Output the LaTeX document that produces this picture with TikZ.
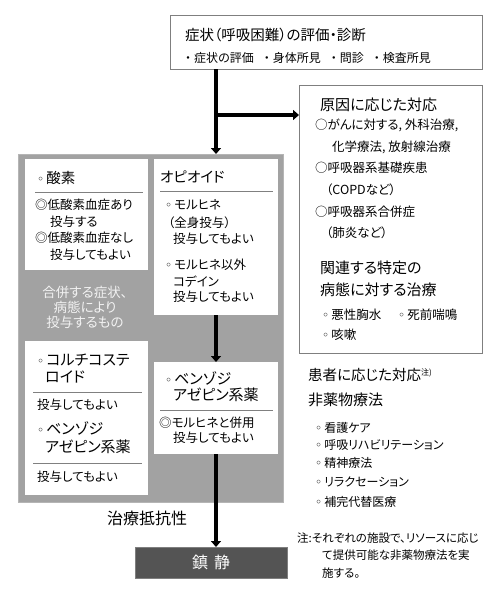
\documentclass[tikz,border=0pt]{standalone}
\usepackage{fontspec}
\setmainfont{Noto Sans CJK JP}[RawFeature=+palt]
\newfontfamily\symfont{DejaVu Sans}
\usetikzlibrary{arrows.meta,positioning}
\definecolor{panel}{HTML}{A2A2A2}
\definecolor{frame}{HTML}{7F7F7F}
\definecolor{rulegray}{HTML}{808080}
\definecolor{sedfill}{HTML}{545454}
\definecolor{pale}{HTML}{F2F2F2}
\newcommand\wb{{\symfont\fontsize{12}{12}\selectfont ◦}\hspace{2pt}}
\newcommand\fs[1]{\fontsize{#1}{#1}\selectfont}

\begin{document}
\begin{tikzpicture}[x=1pt,y=-1pt,
 boxw/.style={anchor=north west,inner sep=0,outer sep=0,fill=white},
 framed/.style={boxw,draw=frame,line width=.8pt},
 ln/.style={anchor=west,inner sep=0,font=\fs{12.5}},
 hd/.style={anchor=west,inner sep=0,font=\fs{15}},
 arr/.style={line width=3.5pt,-{Triangle[length=6pt,width=10pt]}}]
\useasboundingbox (0,0) rectangle (500,595);
% boxes
\node[framed,minimum width=312,minimum height=54] (top) at (170,15){};
\node[framed,minimum width=183,minimum height=268] (cause) at (299,85){};
\node[boxw,fill=panel,draw=panel!80,line width=1pt,minimum width=265,minimum height=348] (panel) at (18,154){};
\node[boxw,minimum width=123,minimum height=111] (oxy) at (25,159){};
\node[boxw,minimum width=124,minimum height=156] (opi) at (154,159){};
\node[boxw,minimum width=123,minimum height=154] (cort) at (25,341){};
\node[boxw,minimum width=124,minimum height=92] (benz) at (154,362){};
\node[boxw,fill=sedfill,draw=frame,line width=1pt,minimum width=152,minimum height=31] (sed) at (135,547){};
% top
\node[hd,font=\fs{14.5}] (t1) at (185,35){症状（呼吸困難）の評価・診断};
\node[ln,font=\fs{12}] (t2) at (185,58){・\hspace{3pt}症状の評価\hspace{10pt}・\hspace{3pt}身体所見\hspace{10pt}・\hspace{3pt}問診\hspace{10pt}・\hspace{3pt}検査所見};
% arrows
\coordinate (split) at (opi.north |- 0,115);
\draw[line width=3.5pt] (top.south -| opi.north) -- (split);
\draw[arr] (split) -- (panel.north -| opi.north);
\draw[arr] (split) -- (split -| cause.west);
\draw[arr] (opi.south) -- (benz.north);
\draw[arr] (benz.south) -- (benz.south |- sed.north);
% cause
\node[hd] (c1) at (320,105){原因に応じた対応};
\node[ln] (c2) at (315,125){○がんに対する, 外科治療,};
\node[ln] (c3) at (332,147){化学療法, 放射線治療};
\node[ln] (c4) at (315,168){○呼吸器系基礎疾患};
\node[ln] (c5) at (326,190){（COPDなど）};
\node[ln] (c6) at (315,212){○呼吸器系合併症};
\node[ln] (c7) at (326,233){（肺炎など）};
\node[hd] (c8) at (320,268){関連する特定の};
\node[hd] (c9) at (320,290){病態に対する治療};
\node[ln] (c10) at (322,315){\wb 悪性胸水};
\node[ln] (c11) at (398,315){\wb 死前喘鳴};
\node[ln] (c12) at (322,335){\wb 咳嗽};
% oxygen
\node[hd,font=\fs{14.5}] (o1) at (37,178){\wb 酸素};
\draw[rulegray,line width=.8pt] (35,192) -- (143,192);
\node[ln] (o2) at (35,205){◎低酸素血症あり};
\node[ln] (o3) at (50,222){投与する};
\node[ln] (o4) at (35,238){◎低酸素血症なし};
\node[ln] (o5) at (50,255){投与してもよい};
\node[font=\fontsize{13.5}{15}\selectfont,text=pale,align=center,inner sep=0] (g1) at (85,307){合併する症状、\\病態により\\投与するもの};
% opioid
\node[hd,font=\fs{14.5}] (p1) at (160,177){オピオイド};
\draw[rulegray,line width=.8pt] (160,191) -- (273,191);
\node[ln] (p2) at (165,205){\wb モルヒネ};
\node[ln] (p3) at (168,223){（全身投与）};
\node[ln] (p4) at (173,239){投与してもよい};
\node[ln] (p5) at (165,265){\wb モルヒネ以外};
\node[ln] (p6) at (173,282){コデイン};
\node[ln] (p7) at (173,297){投与してもよい};
% corticosteroid
\node[hd] (k1) at (37,360){\wb コルチコステ};
\node[hd] (k2) at (45,377){ロイド};
\draw[rulegray,line width=.8pt] (33,392) -- (142,392);
\node[ln] (k3) at (37,405){投与してもよい};
\node[hd] (k4) at (37,428){\wb ベンゾジ};
\node[hd] (k5) at (45,447){アゼピン系薬};
\draw[rulegray,line width=.8pt] (33,463) -- (142,463);
\node[ln] (k6) at (37,477){投与してもよい};
% benzodiazepine
\node[hd] (b1) at (165,378){\wb ベンゾジ};
\node[hd] (b2) at (173,395){アゼピン系薬};
\draw[rulegray,line width=.8pt] (160,410) -- (273,410);
\node[ln] (b3) at (159,423){◎モルヒネと併用};
\node[ln] (b4) at (173,438){投与してもよい};
% sedation
\node[hd,font=\fs{16}] (r1) at (107,518){治療抵抗性};
\node[font=\fs{16},text=white,inner sep=0] (s1) at (sed.center){鎮\hspace{6pt}静};
% patient
\node[hd,font=\fs{14.5}] (n1) at (308,375){患者に応じた対応\textsuperscript{\fs{8}注)}};
\node[hd] (n2) at (308,400){非薬物療法};
\node[ln,font=\fs{12}] (n3) at (315,428){\wb 看護ケア};
\node[ln,font=\fs{12}] (n4) at (315,445){\wb 呼吸リハビリテーション};
\node[ln,font=\fs{12}] (n5) at (315,463){\wb 精神療法};
\node[ln,font=\fs{12}] (n6) at (315,482){\wb リラクセーション};
\node[ln,font=\fs{12}] (n7) at (315,502){\wb 補完代替医療};
\node[ln,font=\fs{11.5}] (m1) at (297,538){注:それぞれの施設で、リソースに応じ};
\node[ln,font=\fs{11.5}] (m2) at (322,555){て提供可能な非薬物療法を実};
\node[ln,font=\fs{11.5}] (m3) at (322,573){施する。};
\end{tikzpicture}
\end{document}
